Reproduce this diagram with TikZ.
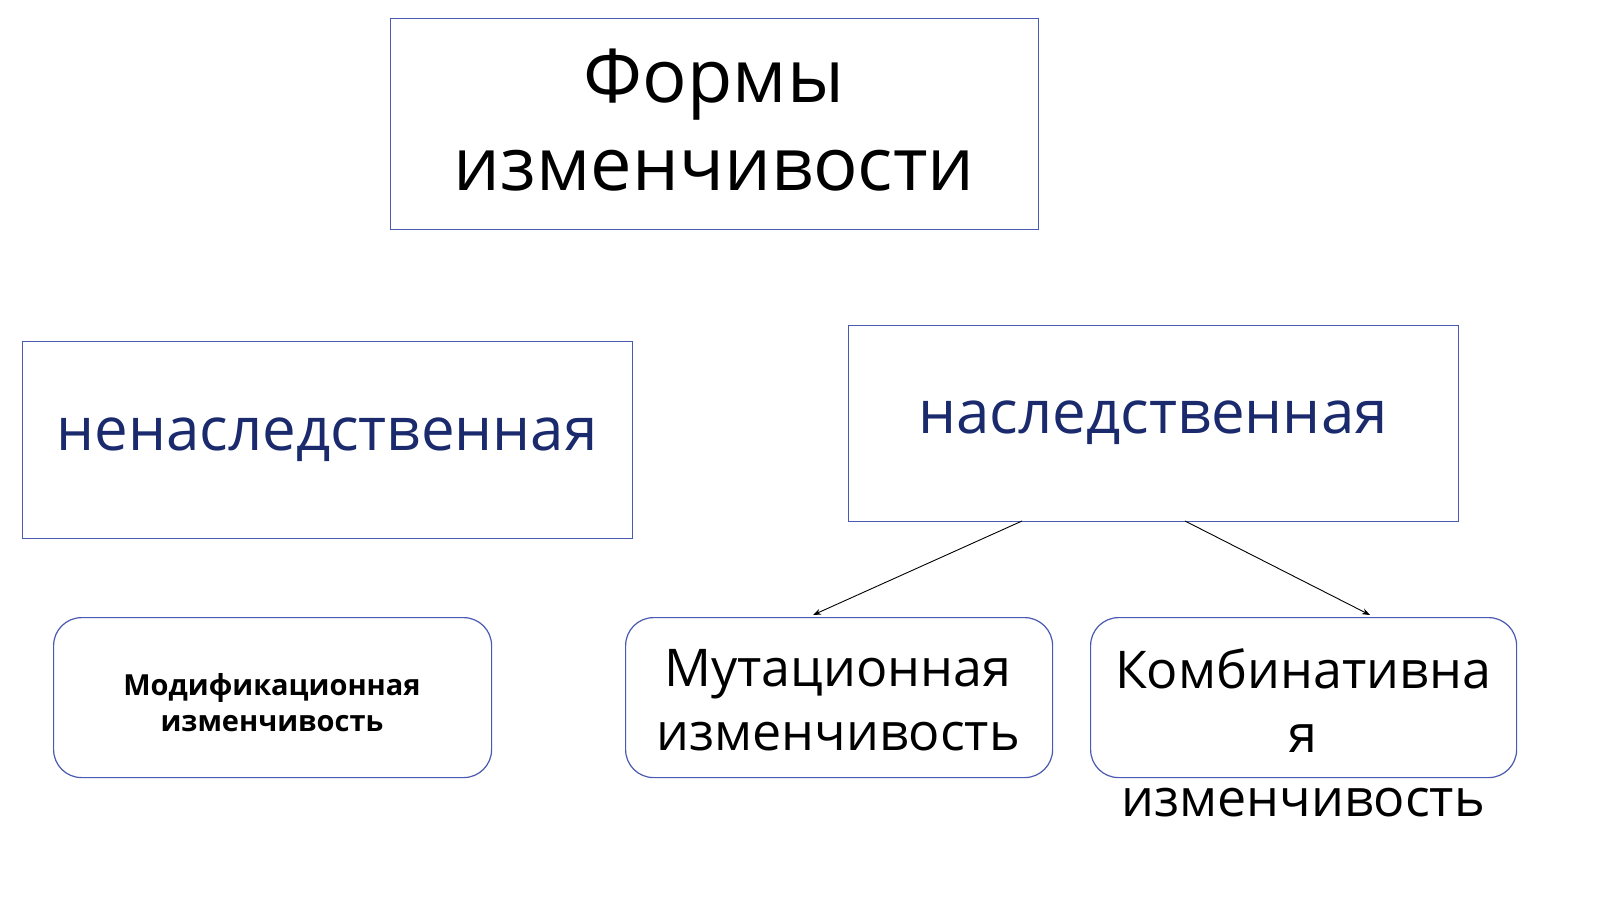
\documentclass[tikz,border=0pt]{standalone}
\usepackage{fontspec}
\setmainfont{Open Sans}
\usetikzlibrary{arrows.meta,calc}
\definecolor{bord}{HTML}{4A5AB0}
\definecolor{navy}{HTML}{1A2A6C}
\begin{document}
\begin{tikzpicture}[x=1pt,y=-1pt,
  box/.style={draw=bord,line width=1.2pt},
  rbox/.style={draw=bord,line width=1.2pt,rounded corners=28pt},
  lbl/.style={align=center,inner sep=0pt},
  arr/.style={-{Stealth[length=8pt,width=6pt]},line width=0.9pt}]
\path[use as bounding box,fill=white] (0,0) rectangle (1600,899);
\node[box,minimum width=648,minimum height=211,anchor=north west] (title) at (390,18) {};
\node[lbl,font=\fontsize{74}{88}\selectfont] (titlet) at (714,120) {Формы\\изменчивости};
\node[box,minimum width=610,minimum height=197,anchor=north west] (nen) at (22,341) {};
\node[lbl,text=navy,font=\fontsize{60}{70}\selectfont] (nent) at (327,440) {ненаследственная};
\node[box,minimum width=610,minimum height=196,anchor=north west] (nas) at (848,325) {};
\node[lbl,text=navy,font=\fontsize{60}{70}\selectfont] (nast) at (1153,423) {наследственная};
\node[rbox,minimum width=438,minimum height=160,anchor=north west] (mod) at (53,617) {};
\node[lbl,font=\bfseries\fontsize{29}{36}\selectfont] (modt) at (272,703) {Модификационная\\изменчивость};
\node[rbox,minimum width=427,minimum height=160,anchor=north west] (mut) at (625,617) {};
\node[lbl,font=\fontsize{52}{64}\selectfont] (mutt) at (838,700) {Мутационная\\изменчивость};
\node[rbox,minimum width=426,minimum height=160,anchor=north west] (kom) at (1090,617) {};
\node[lbl,font=\fontsize{52}{64}\selectfont] (komt) at (1303,733) {Комбинативна\\я\\изменчивость};
\coordinate (a1) at (1022,521);
\coordinate (a2) at (1185,521);
\coordinate (b1) at (813,615);
\coordinate (b2) at (1370,615);
\draw[arr] (a1) -- (b1);
\draw[arr] (a2) -- (b2);
\end{tikzpicture}
\end{document}
